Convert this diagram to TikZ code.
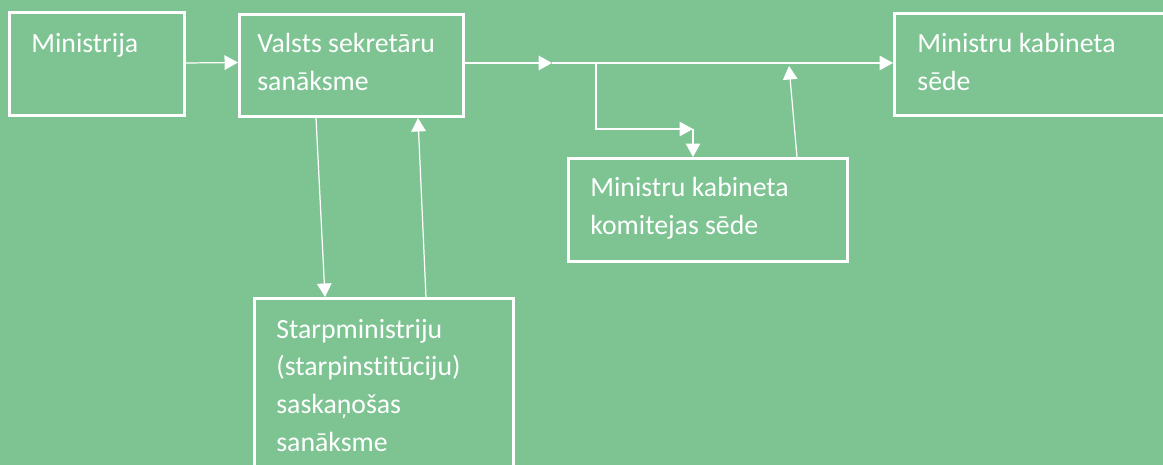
\documentclass[tikz,border=0pt]{standalone}
\usepackage{fontspec}
\setmainfont{Carlito}[Ligatures=NoCommon]
\usetikzlibrary{arrows.meta,calc}
\definecolor{sheetgreen}{RGB}{126,196,147}
\tikzset{
every picture/.style={x=0.02cm,y=-0.02cm}
}
\tikzset{
  box/.style={draw=white, line width=1.7pt, inner sep=0pt},
  boxtext/.style={text=white, font=\fontsize{15.8}{21.4}\selectfont, align=left, inner sep=0pt, anchor=base west},
  link/.style={draw=white, line width=0.7pt, -{Triangle[length=0.27cm,width=0.29cm]}}
}
\begin{document}
\begin{tikzpicture}
    \fill[sheetgreen] (0,0) rectangle (1163,465);
    \clip (0,0) rectangle (1163,465);
    \node[box, minimum width=3.5cm, minimum height=2.06cm] (ministrija) at (97,64) {};
    \node[box, minimum width=4.48cm, minimum height=2.04cm] (vss) at (351.5,65.5) {};
    \node[box, minimum width=5.6cm, minimum height=2.04cm] (mks) at (1034.5,64.5) {};
    \node[box, minimum width=5.58cm, minimum height=2.06cm] (mkk) at (708,210) {};
    \node[box, minimum width=5.18cm, minimum height=4cm] (starp) at (384,398.5) {};
    \node[boxtext] (ministrija-t) at ($(ministrija.north west)+(23,41)$) {Ministrija};
    \node[boxtext] (vss-t) at ($(vss.north west)+(19,77)$) {Valsts sekretāru\\sanāksme};
    \node[boxtext] (mks-t) at ($(mks.north west)+(24,78)$) {Ministru kabineta\\sēde};
    \node[boxtext] (mkk-t) at ($(mkk.north west)+(23,77)$) {Ministru kabineta\\komitejas sēde};
    \node[boxtext] (starp-t) at ($(starp.north west)+(23,154)$) {Starpministriju\\(starpinstitūciju)\\saskaņošas\\sanāksme};
    \coordinate (j1) at (552,63);
    \coordinate (br) at (596,63);
    \coordinate (b2) at (693,129);
    \coordinate (mup) at (789,66);
    \draw[link] ([yshift=0.02cm]ministrija.east) -- ([yshift=0.06cm]vss.west);
    \draw[link, line width=1.3pt] (vss.east |- j1) -- (j1);
    \draw[link] (j1) -- (mks.west |- j1);
    \draw[link] (br) |- (b2);
    \draw[link] (b2) -- (b2 |- mkk.north);
    \draw[link] ([xshift=1.78cm]mkk.north) -- (mup);
    \draw[link] ([xshift=-0.71cm]vss.south) -- ([xshift=-1.18cm]starp.north);
    \draw[link] ([xshift=0.84cm]starp.north) -- ([xshift=1.33cm]vss.south);
\end{tikzpicture}
\end{document}
